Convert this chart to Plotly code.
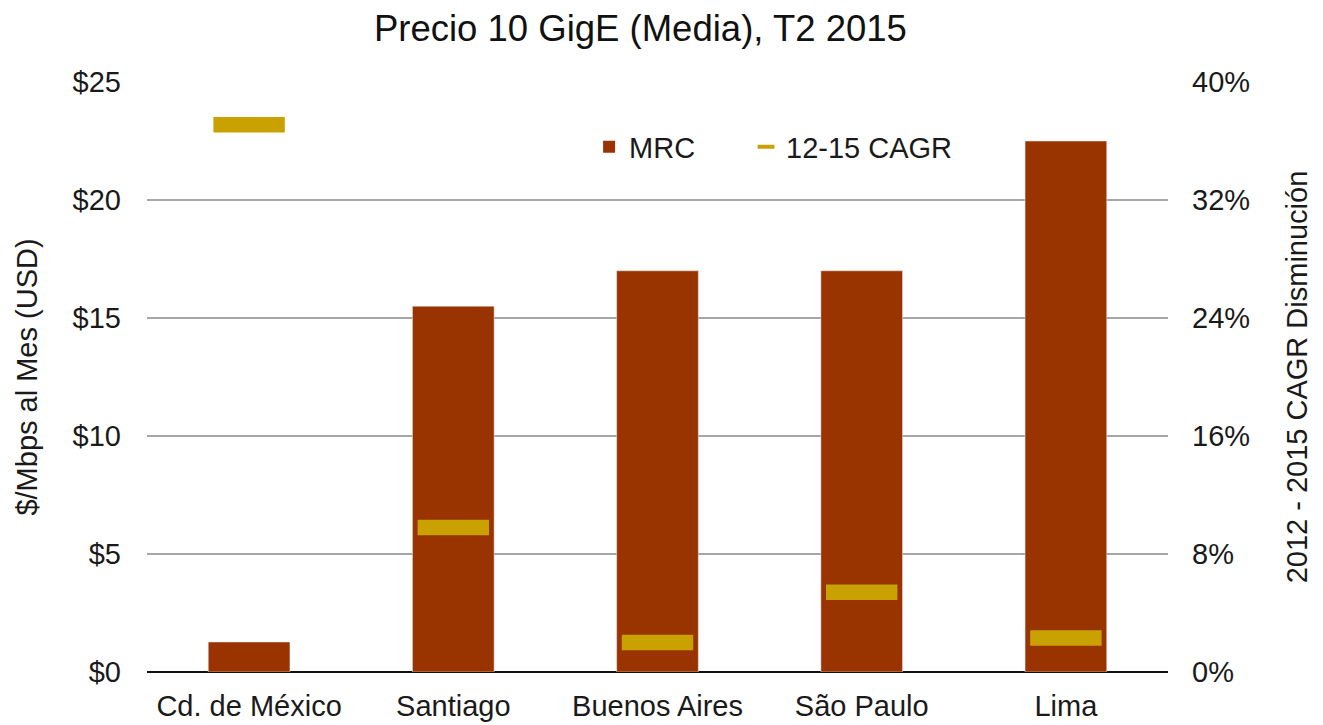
import plotly.graph_objects as go

cities = ["Cd. de México", "Santiago", "Buenos Aires", "São Paulo", "Lima"]
mrc = [1.27, 15.5, 17.0, 17.0, 22.5]
cagr = [37.1, 9.8, 2.0, 5.4, 2.3]

bar_color = "#993300"
cagr_color = "#C9A100"
font_family = "Liberation Sans, Arial, Helvetica, sans-serif"
FS = 29

fig = go.Figure()
fig.add_trace(go.Bar(x=cities, y=mrc, marker_color=bar_color, name="MRC",
                     showlegend=False, yaxis="y"))
fig.add_trace(go.Scatter(x=cities, y=cagr, mode="markers", yaxis="y2",
                         marker=dict(symbol="line-ew", size=51,
                                     line=dict(width=15.5, color=cagr_color)),
                         name="12-15 CAGR", showlegend=False))
# legend entries
fig.add_trace(go.Scatter(x=[None], y=[None], mode="markers", name="MRC", legend="legend",
                         marker=dict(symbol="square", size=12, color=bar_color)))
fig.add_trace(go.Scatter(x=[None], y=[None], mode="markers", name="12-15 CAGR", legend="legend2",
                         marker=dict(symbol="line-ew", size=12,
                                     line=dict(width=4, color=cagr_color))))

leg_common = dict(orientation="h", y=0.89, xanchor="left", yanchor="middle",
                  font=dict(size=FS), bgcolor="rgba(0,0,0,0)", itemsizing="trace",
                  itemwidth=30)

fig.update_layout(
    width=1323, height=725,
    margin=dict(l=139, r=163, t=74, b=61),
    paper_bgcolor="white", plot_bgcolor="white",
    font=dict(family=font_family, size=FS, color="#1a1a1a"),
    title=dict(text="Precio 10 GigE (Media), T2 2015", x=0.478, xanchor="center",
               y=0.972, yanchor="middle", font=dict(size=36.5, color="#111111")),
    bargap=0.6,
    xaxis=dict(showgrid=False, ticks="", tickfont=dict(size=FS), ticklabelstandoff=14,
               automargin=False),
    yaxis=dict(range=[0, 25], tickvals=[0, 5, 10, 15, 20, 25],
               ticktext=["$0", "$5", "$10", "$15", "$20", "$25"],
               showgrid=True, gridcolor="#A6A6A6", gridwidth=1.5,
               zeroline=True, zerolinecolor="#111111", zerolinewidth=1.5,
               ticks="", ticklabelstandoff=25, tickfont=dict(size=FS), automargin=False,
               title=dict(text="$/Mbps al Mes (USD)", standoff=26, font=dict(size=FS))),
    yaxis2=dict(range=[0, 40], tickvals=[0, 8, 16, 24, 32, 40],
                ticktext=["0%", "8%", "16%", "24%", "32%", "40%"],
                overlaying="y", side="right", showgrid=False, zeroline=False,
                ticks="", ticklabelstandoff=23, tickfont=dict(size=FS), automargin=False,
                title=dict(text="2012 - 2015 CAGR Disminución", standoff=37, font=dict(size=FS))),
    legend=dict(x=0.433, **leg_common),
    legend2=dict(x=0.5867, **leg_common),
)

fig.write_html("out.html")
